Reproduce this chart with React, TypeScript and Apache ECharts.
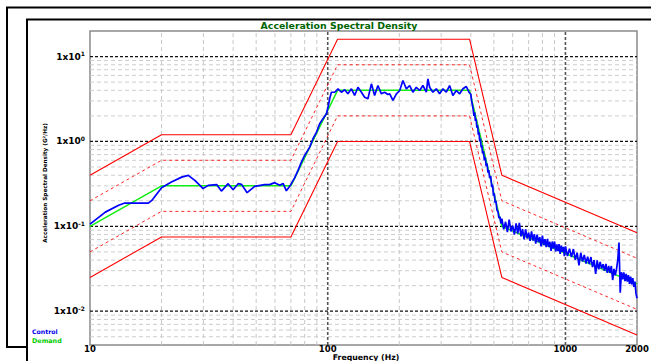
import React, { useEffect, useRef } from 'react';
import * as echarts from 'echarts';

// ---- data ----
const controlFreq = [
  10, 11.6, 13.2, 14.0, 17.6, 18.2, 20.0, 22.0, 24.3, 25.9, 27.6, 29.0, 29.9, 31.4, 34.1, 35.7, 38.1, 40.0, 42.0, 43.4,
  45.8, 49.3, 54.3, 57.0, 59.8, 62.8, 64.9, 67.0, 69.2, 72.6,
  75.0, 77.5, 80.0, 84.0, 86.7, 89.7, 92.5, 95.5, 98.8, 100.3, 101.9, 103.6, 107.0, 110.5, 114.2, 117.8, 121.6, 125.8,
  129.8, 134.0, 138.6, 143.0, 147.6, 152.7, 157.5, 162.6, 168.2, 173.4, 179.1,
  182.3, 188.1, 194.5, 200.8, 207.2, 214.2, 221.1, 228.2, 235.9, 243.6, 251.4, 259.9, 263.9, 268.3, 276.9, 286.2,
  295.6, 305.2, 315.4, 325.6, 336.1, 347.5, 358.8, 370.5, 382.9, 392.7,
  400, 403, 406, 409, 412, 415, 418, 421, 424, 427, 430, 433, 436, 439, 442, 445, 448, 452, 456, 460, 464, 468, 472,
  476, 480, 485, 490, 494, 498, 502, 506, 510, 515, 520, 525, 530, 535,
  540, 550, 560, 570, 580, 590, 600, 610, 620, 630, 640, 650, 660, 670, 680, 690, 700, 710, 720, 730, 740, 750, 760,
  770, 780, 790, 800, 810, 820, 830, 840, 850, 860, 870, 880, 890, 900, 910, 920, 930, 940, 950, 960, 970, 980, 990,
  1000, 1020, 1040, 1060, 1080, 1100, 1120, 1140, 1160, 1180, 1200, 1220, 1240, 1260, 1280, 1300, 1320, 1340, 1360,
  1380, 1400, 1420, 1440, 1460, 1480, 1500, 1520, 1540, 1560, 1580, 1600, 1620, 1640, 1660, 1680, 1700, 1720, 1740,
  1760, 1780, 1800, 1820, 1840, 1860, 1880, 1900, 1920, 1940, 1960, 1980, 2000,
];
const controlVal = [
  0.106, 0.147, 0.177, 0.188, 0.188, 0.202, 0.285, 0.332, 0.38, 0.398, 0.348, 0.304, 0.278, 0.304, 0.31, 0.26, 0.318,
  0.27, 0.318, 0.312, 0.249, 0.296, 0.31, 0.31, 0.327, 0.304, 0.32, 0.262, 0.296, 0.372,
  0.456, 0.571, 0.684, 0.857, 1.076, 1.286, 1.616, 1.85, 2.12, 2.53, 3.18, 3.8, 3.8, 4.17, 3.8, 4.06, 3.64, 4.17,
  3.48, 4.35, 3.8, 3.32, 3.18, 4.77, 3.48, 4.56, 3.64, 3.8, 3.57,
  3.64, 3.04, 3.64, 3.98, 5.22, 4.17, 4.56, 3.8, 4.35, 3.98, 4.56, 3.8, 5.47, 4.35, 3.8, 4.17,
  3.64, 4.17, 3.8, 4.56, 3.48, 3.98, 3.64, 4.17, 4.44, 3.8,
  3.6, 3.0, 2.7, 2.4, 2.0, 2.2, 1.75, 1.85, 1.45, 1.55, 1.2, 1.28, 1.0, 1.08, 0.85, 0.9, 0.72, 0.77, 0.6, 0.65, 0.51,
  0.55, 0.43, 0.46, 0.37, 0.39, 0.29, 0.31, 0.23, 0.245, 0.19, 0.2, 0.155, 0.15, 0.125, 0.13, 0.108,
  0.123, 0.092, 0.113, 0.0855, 0.12, 0.087, 0.102, 0.08, 0.108, 0.082, 0.11, 0.076, 0.093, 0.07, 0.092, 0.072, 0.084,
  0.0676, 0.087, 0.068, 0.081, 0.0626, 0.08, 0.065, 0.0745, 0.0582, 0.0776, 0.0599, 0.0708, 0.0568, 0.0713, 0.0571,
  0.0657, 0.0513, 0.0663, 0.0547, 0.0663, 0.0505, 0.0612, 0.0509, 0.0619, 0.0474, 0.0593, 0.05, 0.0573, 0.0446,
  0.0581, 0.0446, 0.0546, 0.0436, 0.054, 0.0404, 0.049, 0.0347, 0.0488, 0.0384, 0.0461, 0.0365, 0.0439, 0.0359,
  0.0435, 0.0331, 0.04, 0.0275, 0.0397, 0.0312, 0.038, 0.0319, 0.0358, 0.0299, 0.036, 0.0283, 0.0342, 0.0284, 0.0341,
  0.0233, 0.0316, 0.0265, 0.0313, 0.0399, 0.0646, 0.0165, 0.0288, 0.0238, 0.0287, 0.0226, 0.0275, 0.0223, 0.0266,
  0.021, 0.0256, 0.0207, 0.0245, 0.0194, 0.0223, 0.0162, 0.0142,
];
const demandFreq = [10, 20, 70, 110, 395, 540, 2000];
const demandVal = [0.1, 0.3, 0.3, 4, 4, 0.1, 0.021];
const abortHigh = [0.4, 1.2, 1.2, 16, 16, 0.4, 0.084];
const alarmHigh = [0.2, 0.6, 0.6, 8, 8, 0.2, 0.042];
const alarmLow = [0.05, 0.15, 0.15, 2, 2, 0.05, 0.0105];
const abortLow = [0.025, 0.075, 0.075, 1, 1, 0.025, 0.00525];

const xMinorGrid = [20, 30, 40, 50, 60, 70, 80, 90, 200, 300, 400, 500, 600, 700, 800, 900];
const xMajorGrid = [100, 1000];
const yMinorGrid = [
  0.005, 0.006, 0.007, 0.008, 0.009, 0.02, 0.03, 0.04, 0.05, 0.06, 0.07, 0.08, 0.09,
  0.2, 0.3, 0.4, 0.5, 0.6, 0.7, 0.8, 0.9, 2, 3, 4, 5, 6, 7, 8, 9,
];
const yMajorGrid = [0.01, 0.1, 1, 10];

const X_MIN = 10;
const X_MAX = 2000;
const Y_MIN = 0.004;
const Y_MAX = 20;

const FONT = '"DejaVu Sans", "Liberation Sans", Arial, sans-serif';

function zip(a: number[], b: number[]) {
  return a.map((v, i) => [v, b[i]]);
}

function gridSeries(points: number[][], color: string, width: number, dash: number[]) {
  return {
    type: 'line',
    data: points,
    symbol: 'none',
    silent: true,
    animation: false,
    lineStyle: { color, width, type: dash },
  };
}

export default function App() {
  const ref = useRef<HTMLDivElement>(null);

  useEffect(() => {
    if (!ref.current) return;
    const chart = echarts.init(ref.current, undefined, { renderer: 'svg' });

    const series: any[] = [];
    xMinorGrid.forEach((x) => series.push(gridSeries([[x, Y_MIN], [x, Y_MAX]], '#c8c8c8', 1, [4, 3])));
    yMinorGrid.forEach((y) => series.push(gridSeries([[X_MIN, y], [X_MAX, y]], '#cdcdcd', 1, [4, 3])));
    xMajorGrid.forEach((x) => series.push(gridSeries([[x, Y_MIN], [x, Y_MAX]], '#555555', 1.6, [3, 2])));
    yMajorGrid.forEach((y) => series.push(gridSeries([[X_MIN, y], [X_MAX, y]], '#111111', 1.2, [3, 2])));

    const limit = (vals: number[], dashed: boolean) => ({
      type: 'line',
      data: zip(demandFreq, vals),
      symbol: 'none',
      silent: true,
      animation: false,
      lineStyle: { color: '#ff0000', width: dashed ? 1 : 1.1, type: dashed ? [3, 3] : 'solid', opacity: dashed ? 0.85 : 1 },
    });
    series.push(limit(abortHigh, false));
    series.push(limit(alarmHigh, true));
    series.push(limit(alarmLow, true));
    series.push(limit(abortLow, false));
    series.push({
      name: 'Demand',
      type: 'line',
      data: zip(demandFreq, demandVal),
      symbol: 'none',
      silent: true,
      animation: false,
      lineStyle: { color: '#11ee11', width: 1.5 },
    });
    series.push({
      name: 'Control',
      type: 'line',
      data: zip(controlFreq, controlVal),
      symbol: 'none',
      silent: true,
      animation: false,
      lineStyle: { color: '#0000ff', width: 1.7 },
    });

    chart.setOption({
      animation: false,
      grid: {
        left: 90,
        top: 31,
        width: 547,
        height: 314,
        show: true,
        borderColor: '#8a8a8a',
        borderWidth: 1.5,
        backgroundColor: 'transparent',
        containLabel: false,
        outerBoundsMode: 'none',
      },
      xAxis: {
        type: 'log',
        logBase: 10,
        min: X_MIN,
        max: X_MAX,
        axisLine: { show: false },
        axisTick: { show: false },
        splitLine: { show: false },
        minorTick: { show: false },
        axisLabel: {
          show: true,
          interval: 0,
          hideOverlap: false,
          showMinLabel: true,
          showMaxLabel: true,
          margin: 0,
          color: '#000',
          fontFamily: FONT,
          fontWeight: 'bold',
          fontSize: 8.5,
          lineHeight: 8,
          formatter: (v: number) => String(Math.round(v)),
        },
      },
      yAxis: {
        type: 'log',
        logBase: 10,
        min: Y_MIN,
        max: Y_MAX,
        axisLine: { show: false },
        axisTick: { show: false },
        splitLine: { show: false },
        axisLabel: {
          show: true,
          interval: 0,
          hideOverlap: false,
          margin: 5,
          color: '#000',
          formatter: (v: number) => {
            const e = Math.log10(v);
            const r = Math.round(e);
            if (Math.abs(e - r) > 0.01) return '';
            return `{b|1x10}{s|${r}}`;
          },
          rich: {
            b: { fontFamily: FONT, fontWeight: 'bold', fontSize: 9, color: '#000', lineHeight: 12 },
            s: { fontFamily: FONT, fontWeight: 'bold', fontSize: 6, color: '#000', verticalAlign: 'top', lineHeight: 7 },
          },
        },
      },
      graphic: [
        {
          type: 'polyline',
          silent: true,
          shape: { points: [[651, 7.5], [7, 7.5], [7, 347], [27, 347]] },
          style: { stroke: '#000', lineWidth: 2, fill: 'none' },
        },
        {
          type: 'polyline',
          silent: true,
          shape: { points: [[651, 19.5], [27, 19.5], [27, 361]] },
          style: { stroke: '#000', lineWidth: 2, fill: 'none' },
        },
        {
          type: 'text',
          x: 339,
          y: 25,
          silent: true,
          style: {
            text: 'Acceleration Spectral Density',
            fill: '#006400',
            font: `bold 9.4px ${FONT}`,
            textAlign: 'center',
            textVerticalAlign: 'middle',
          },
        },
        {
          type: 'text',
          x: 45,
          y: 183,
          rotation: Math.PI / 2,
          silent: true,
          style: {
            text: 'Acceleration Spectral Density (G²/Hz)',
            fill: '#000',
            font: `bold 5.7px ${FONT}`,
            textAlign: 'center',
            textVerticalAlign: 'middle',
          },
        },
        {
          type: 'text',
          x: 366,
          y: 357,
          silent: true,
          style: {
            text: 'Frequency (Hz)',
            fill: '#000',
            font: `bold 7.8px ${FONT}`,
            textAlign: 'center',
            textVerticalAlign: 'middle',
          },
        },
        {
          type: 'text',
          x: 32,
          y: 331,
          silent: true,
          style: {
            text: 'Control',
            fill: '#0000ee',
            font: `bold 6.2px ${FONT}`,
            textAlign: 'left',
            textVerticalAlign: 'middle',
          },
        },
        {
          type: 'text',
          x: 32,
          y: 341,
          silent: true,
          style: {
            text: 'Demand',
            fill: '#00cc00',
            font: `bold 6.4px ${FONT}`,
            textAlign: 'left',
            textVerticalAlign: 'middle',
          },
        },
      ],
      series,
    });

    return () => {
      chart.dispose();
    };
  }, []);

  return (
    <div
      ref={ref}
      style={{ position: 'fixed', left: 0, top: 0, width: 651, height: 361, background: '#fff' }}
    />
  );
}
